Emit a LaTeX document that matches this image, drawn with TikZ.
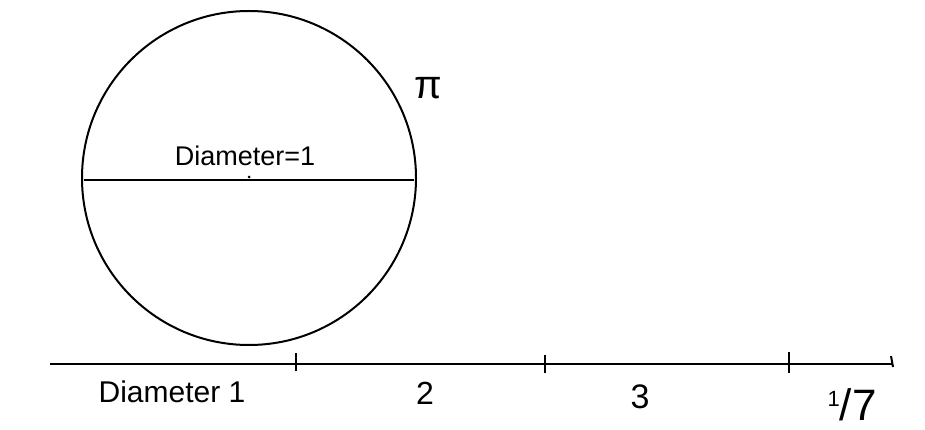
\documentclass[tikz,border=0pt]{standalone}
\usepackage{fontspec}
\setmainfont{Liberation Sans}
\begin{document}
\begin{tikzpicture}[x=1pt,y=-1pt,
  ink/.style={draw=black,line width=2pt},
  lbl/.style={font=\fontsize{27}{30}\selectfont,inner sep=0pt},
  tick/.style={draw=black,line width=2pt}]
\useasboundingbox[fill=white] (0,0) rectangle (925,430);
\node[circle,ink,minimum size=334pt,inner sep=0pt] (c) at (249,178) {};
\draw[ink] (84,180) -- (414,180);
\fill (249,177) circle (1.5pt);
\node[lbl] (dlab) at (245,156) {Diameter=1};
\node[inner sep=0pt,font=\fontsize{40}{44}\selectfont] (pi) at (428,88) {π};
% number line
\coordinate (a0) at (50,364);
\coordinate (a4) at (893,364);
\draw[ink] (a0) -- (a4);
\coordinate (t1) at (296,364);
\coordinate (t2) at (545,364);
\coordinate (t3) at (789,364);
\draw[tick] ([yshift=-7]t1) -- ([yshift=11]t1);
\draw[tick] ([yshift=-9]t2) -- ([yshift=9]t2);
\draw[tick] ([yshift=-9]t3) -- ([yshift=12]t3);
\draw[tick] ([yshift=-3]a4) -- ([xshift=-2,yshift=8]a4);
\node[lbl,font=\fontsize{30}{34}\selectfont] (l1) at (172,392) {Diameter 1};
\node[lbl,font=\fontsize{32}{36}\selectfont] (l2) at (425,393) {2};
\node[lbl,font=\fontsize{34}{38}\selectfont] (l3) at (640,397) {3};
\node[lbl,font=\fontsize{44}{48}\selectfont] (l4) at (852,405) {\raisebox{14pt}{\fontsize{22}{24}\selectfont 1}/7};
\end{tikzpicture}
\end{document}
